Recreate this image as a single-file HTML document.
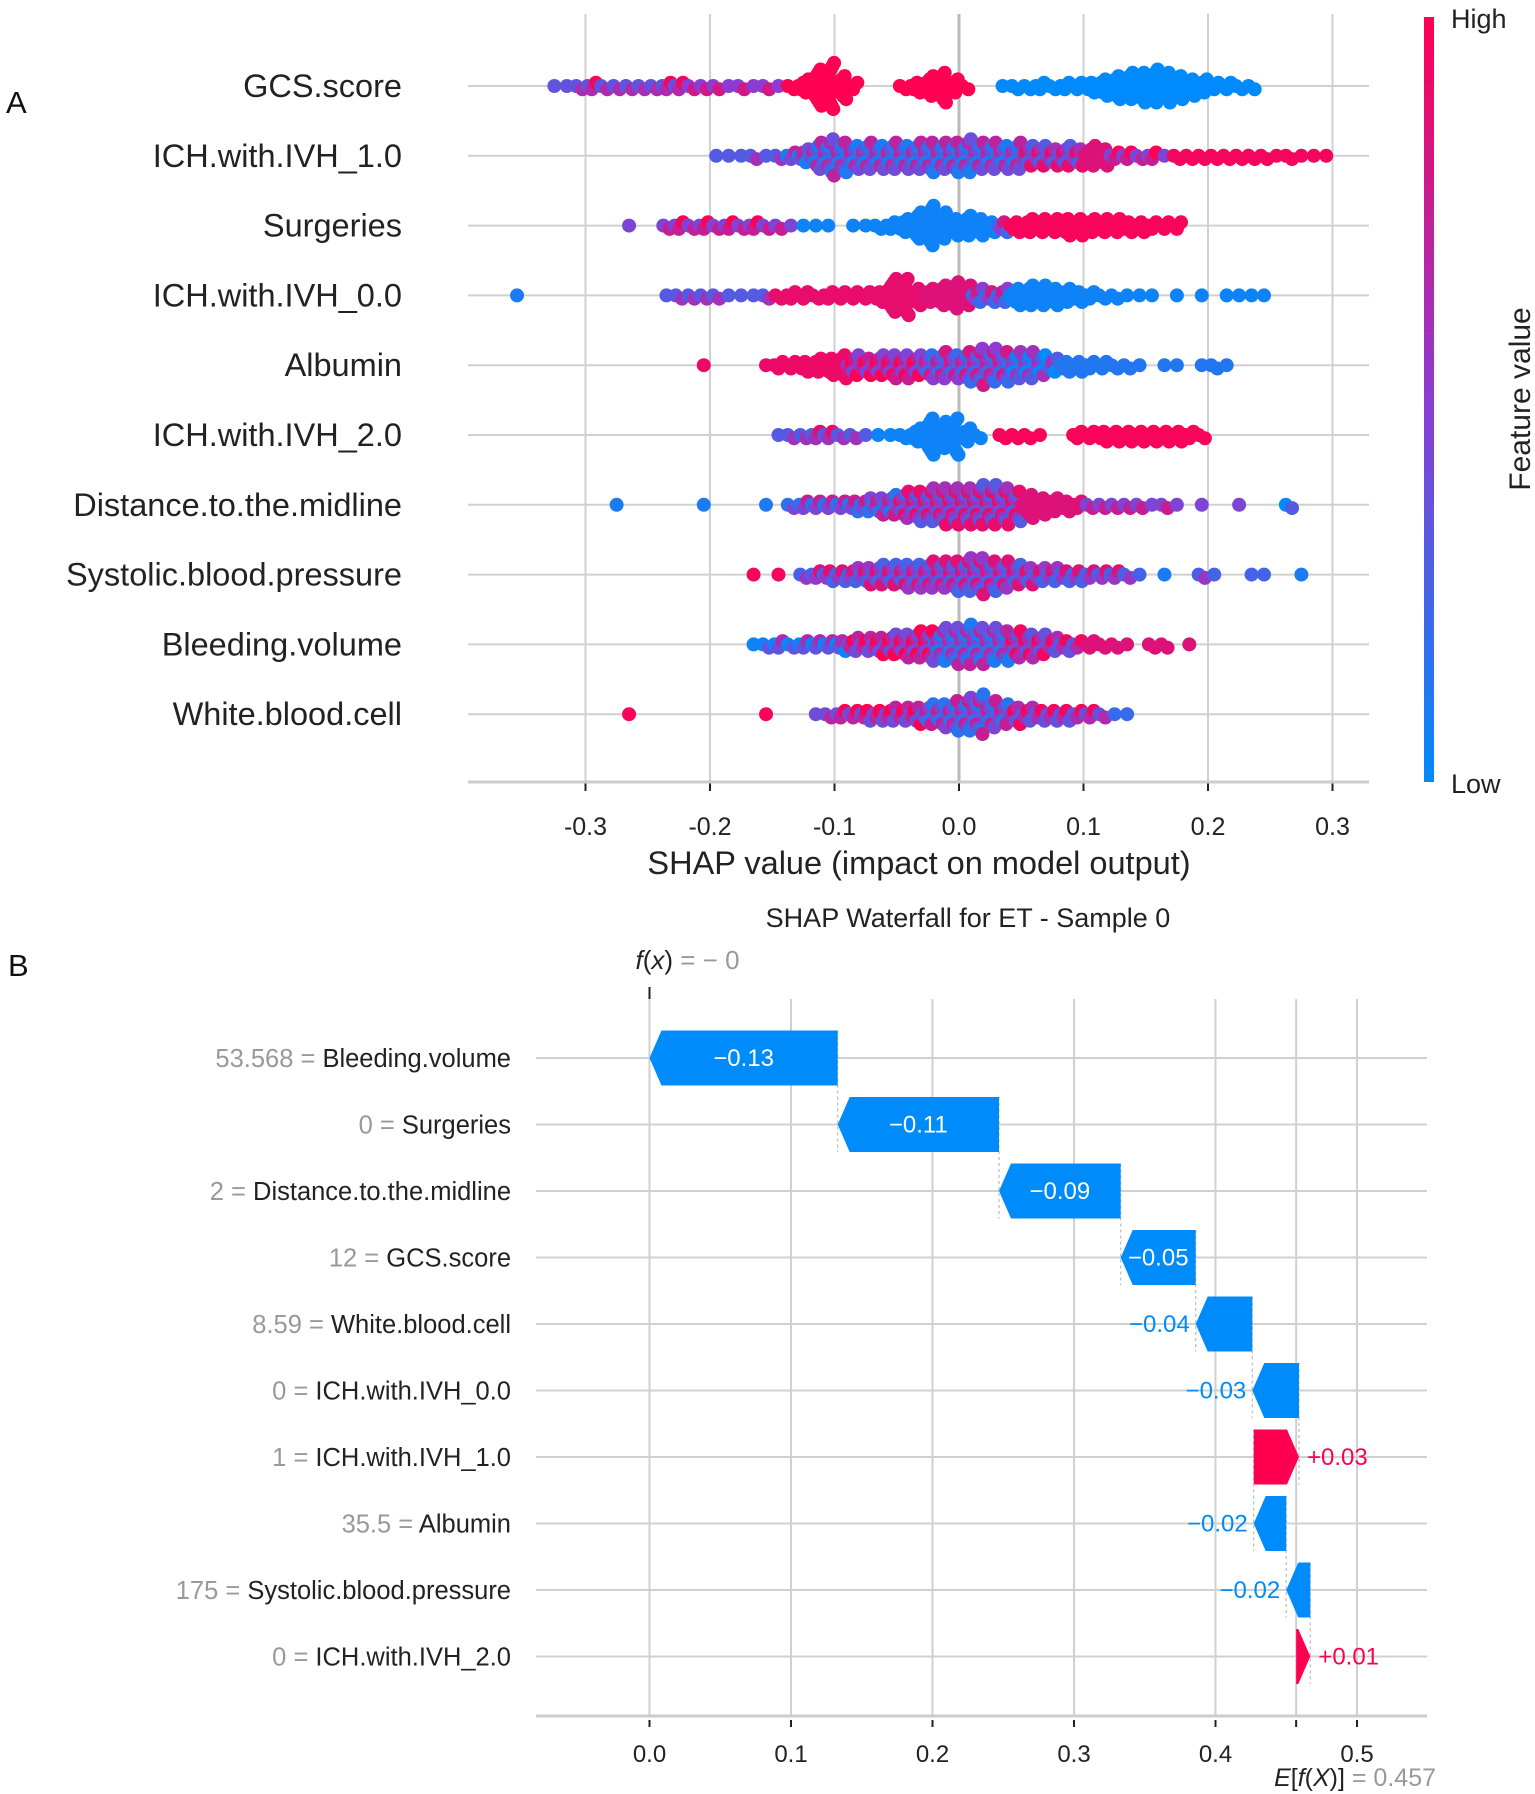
<!DOCTYPE html>
<html><head><meta charset="utf-8">
<style>
html,body{margin:0;padding:0;background:#fff;}
svg{display:block;font-family:"Liberation Sans",sans-serif;}
</style></head>
<body>
<svg id="fig" width="1535" height="1794" viewBox="0 0 1535 1794" xmlns="http://www.w3.org/2000/svg">
<defs>
<linearGradient id="cbar" x1="0" y1="1" x2="0" y2="0">
<stop offset="0" stop-color="#008afb"/><stop offset="0.5" stop-color="#8c3cd2"/><stop offset="1" stop-color="#ff0052"/>
</linearGradient>
</defs>
<text x="6" y="113" font-size="31" fill="#111">A</text>
<text x="8" y="976" font-size="31" fill="#111">B</text>
<g id="gA"></g>
<g id="gB"></g>
</svg>
<script>
// ---------- Panel A data (beeswarm: counts per 0.01 SHAP bin) ----------
const featuresA = ["GCS.score","ICH.with.IVH_1.0","Surgeries","ICH.with.IVH_0.0","Albumin","ICH.with.IVH_2.0","Distance.to.the.midline","Systolic.blood.pressure","Bleeding.volume","White.blood.cell"];
const binStarts = [-0.33,-0.20,-0.27,-0.36,-0.21,-0.15,-0.28,-0.17,-0.17,-0.27];
const gcsCounts = [1,1,2,3,2,2,2,2,2,3,3,2,2,2,1,2,1,2,1,2,5,12,15,8,3,0,0,0,2,4,7,10,5,2,0,0,1,2,2,3,2,3,3,4,6,8,9,10,11,10,8,6,5,3,3,2,2];
const ich1Counts = [1,1,1,2,1,2,3,5,9,12,10,8,9,8,9,8,9,10,9,10,11,9,9,8,9,7,7,6,7,6,7,6,3,3,2,3,1,2,2,2,2,2,2,2,2,1,2,1,1,1];
const surgCounts = [1,0,0,2,3,2,3,2,3,2,3,2,2,1,1,1,1,0,1,1,2,3,5,9,13,9,6,7,6,4,4,4,5,5,5,6,6,5,5,5,4,4,3,3,3];
const ich0Counts = [1,0,0,0,0,0,0,0,0,0,0,0,1,2,2,2,2,1,1,1,2,2,3,3,2,3,3,3,3,4,11,12,6,5,7,9,7,5,4,5,6,7,7,6,5,4,3,2,2,1,1,1,0,1,0,1,0,1,1,1,1];
const albCounts = [1,0,0,0,0,1,3,3,4,5,6,8,7,6,7,8,8,7,8,9,8,10,12,11,10,9,9,7,5,4,4,3,3,2,2,1,0,1,1,0,1,2,1];
const ich2Counts = [1,2,2,3,3,2,2,1,1,1,2,5,12,9,12,5,2,0,2,2,2,1,0,0,3,3,4,4,4,4,4,4,4,3,2];
const distCounts = [1,0,0,0,0,0,0,1,0,0,0,0,1,0,2,3,3,3,3,4,5,6,7,9,10,11,12,12,12,13,13,12,10,8,6,5,4,3,2,2,2,2,2,1,2,1,0,1,0,0,1,0,0,0,2];
const sysCounts = [1,0,1,0,2,3,4,4,5,6,7,7,8,8,9,9,10,11,12,10,9,7,6,5,5,4,4,3,3,3,2,1,0,1,0,0,2,1,0,0,1,1,0,0,1];
const bleedCounts = [1,2,3,2,3,3,3,4,5,5,6,7,8,9,10,11,12,13,12,11,10,9,8,7,5,4,3,3,2,2,1,0,2,2,0,1];
const wbcCounts = [1,0,0,0,0,0,0,0,0,0,0,1,0,0,0,1,2,3,3,4,4,5,5,6,7,8,10,11,13,9,7,6,5,4,4,4,3,3,2,1,1];
// feature-value colour segments: [segment start SHAP, mean feature value 0..1]
const gcsColor = [[-0.33,0.65],[-0.22,0.8],[-0.14,1.0],[0.02,0.0]];
const ich1Color = [[-0.20,0.6],[-0.14,0.4],[0.05,0.6],[0.10,0.85],[0.12,0.75],[0.17,0.95]];
const surgColor = [[-0.27,0.75],[-0.13,0.05],[0.03,0.5],[0.04,0.97]];
const ich0Color = [[-0.36,0.4],[-0.24,0.6],[-0.15,0.9],[-0.03,0.85],[0.01,0.5],[0.04,0.05]];
const albColor = [[-0.21,0.92],[-0.09,0.75],[-0.03,0.5],[0.04,0.3],[0.08,0.12]];
const ich2Color = [[-0.15,0.6],[-0.07,0.05],[0.03,0.97]];
const distColor = [[-0.28,0.1],[-0.14,0.45],[-0.05,0.6],[0.05,0.85],[0.10,0.75],[0.26,0.3]];
const sysColor = [[-0.17,0.95],[-0.13,0.55],[0.16,0.1],[0.19,0.55],[0.27,0.1]];
const bleedColor = [[-0.17,0.35],[-0.09,0.7],[-0.02,0.4],[0.04,0.65],[0.10,0.85]];
const wbcColor = [[-0.27,0.97],[-0.12,0.7],[-0.03,0.45],[0.04,0.65],[0.12,0.5]];
const ticksA = [-0.3,-0.2,-0.1,0.0,0.1,0.2,0.3];
const tickLabelsA = ["-0.3","-0.2","-0.1","0.0","0.1","0.2","0.3"];

// ---------- Panel B data (waterfall) ----------
const featuresB = ["Bleeding.volume","Surgeries","Distance.to.the.midline","GCS.score","White.blood.cell","ICH.with.IVH_0.0","ICH.with.IVH_1.0","Albumin","Systolic.blood.pressure","ICH.with.IVH_2.0"];
const featValuesB = ["53.568","0","2","12","8.59","0","1","35.5","175","0"];
const shapB = [-0.133,-0.114,-0.086,-0.053,-0.040,-0.033,0.032,-0.023,-0.017,0.010];
const shapLabelsB = ["\u22120.13","\u22120.11","\u22120.09","\u22120.05","\u22120.04","\u22120.03","+0.03","\u22120.02","\u22120.02","+0.01"];
const baseValue = 0.457;
const ticksB = [0.0,0.1,0.2,0.3,0.4,0.5];
const tickLabelsB = ["0.0","0.1","0.2","0.3","0.4","0.5"];

const NS = "http://www.w3.org/2000/svg";
function mk(tag, attrs, parent){const e=document.createElementNS(NS,tag);for(const k in attrs)e.setAttribute(k,attrs[k]);parent.appendChild(e);return e;}
function cmap(v){v=Math.max(0,Math.min(1,v));const a=[0,138,251],m=[140,60,210],b=[255,0,82];let c;
 if(v<0.5){const t=v/0.5;c=a.map((x,i)=>Math.round(x+(m[i]-x)*t));}else{const t=(v-0.5)/0.5;c=m.map((x,i)=>Math.round(x+(b[i]-x)*t));}
 return "rgb("+c.join(",")+")";}

// ---------- Panel A ----------
const gA=document.getElementById("gA");
const xA = v => 959 + v*1245;
const rowY = i => 86 + i*69.8;
const A_L=468, A_R=1369, A_AX=782;
ticksA.forEach((t,i)=>{
 const gl=mk("line",{x1:xA(t),x2:xA(t),y1:14,y2:A_AX,stroke:t===0?"#bbb":"#d0d0d0","stroke-width":t===0?3:2},gA);
 
 
 const tk=mk("line",{x1:xA(t),x2:xA(t),y1:A_AX,y2:A_AX+9,stroke:"#222","stroke-width":2},gA);
 
 
 const tl=mk("text",{x:xA(t),y:835,"font-size":25,"text-anchor":"middle",fill:"#222"},gA);
 tl.textContent=tickLabelsA[i];
 
 
});
const axA=mk("line",{x1:A_L,x2:A_R,y1:A_AX,y2:A_AX,stroke:"#ccc","stroke-width":3},gA);


const xtA=mk("text",{x:919,y:874,"font-size":32.5,"text-anchor":"middle",fill:"#222"},gA);
xtA.textContent="SHAP value (impact on model output)";



const countsAll=[gcsCounts,ich1Counts,surgCounts,ich0Counts,albCounts,ich2Counts,distCounts,sysCounts,bleedCounts,wbcCounts];
const colorsAll=[gcsColor,ich1Color,surgColor,ich0Color,albColor,ich2Color,distColor,sysColor,bleedColor,wbcColor];
featuresA.forEach((f,i)=>{
 const y=rowY(i);
 const rl=mk("line",{x1:A_L,x2:A_R,y1:y,y2:y,stroke:"#d0d0d0","stroke-width":2},gA);
 
 
 const lb=mk("text",{x:402,y:y+11,"font-size":32.5,"text-anchor":"end",fill:"#222"},gA);
 lb.textContent=f;
 
 
 const g=mk("g",{},gA);
 
 
 const counts=countsAll[i], segs=colorsAll[i];
 counts.forEach((n,b)=>{
  const v0=binStarts[i]+b*0.01;
  let c=segs[0][1]; segs.forEach(s=>{if(v0>=s[0]-1e-9)c=s[1];});
  for(let k=0;k<n;k++){
   const v=v0+(k+0.5)/n*0.01;
   const off=(k===0?0:(k%2?1:-1)*Math.ceil(k/2))*3.3;
   let cc=c; if(c>0.2&&c<0.85){cc=c+((k%3)-1)*0.3;}
   const d=mk("circle",{cx:xA(v),cy:y+off,r:7,fill:cmap(cc)},g);
   
   
  }
 });
});
const cb=mk("rect",{x:1424,y:17,width:10,height:765,fill:"url(#cbar)"},gA);


const hi=mk("text",{x:1451,y:28,"font-size":27,fill:"#222"},gA);hi.textContent="High";


const lo=mk("text",{x:1451,y:793,"font-size":27,fill:"#222"},gA);lo.textContent="Low";


const fv=mk("text",{x:0,y:0,"font-size":30,"text-anchor":"middle",fill:"#222",transform:"translate(1530,399) rotate(-90)"},gA);fv.textContent="Feature value";



// ---------- Panel B ----------
const gB=document.getElementById("gB");
const xB = v => 649.5 + v*1415;
const rowYB = i => 1058 + i*66.5;
const B_L=536, B_R=1427, B_AX=1716, BH=55, HW=12;
const ttl=mk("text",{x:968,y:927,"font-size":27,"text-anchor":"middle",fill:"#222"},gB);
ttl.textContent="SHAP Waterfall for ET - Sample 0";


ticksB.forEach((t,i)=>{
 const gl=mk("line",{x1:xB(t),x2:xB(t),y1:999,y2:B_AX,stroke:"#d0d0d0","stroke-width":2},gB);
 
 
 const tk=mk("line",{x1:xB(t),x2:xB(t),y1:B_AX+4,y2:B_AX+11,stroke:"#222","stroke-width":2},gB);
 
 
 const tl=mk("text",{x:xB(t),y:1762,"font-size":24,"text-anchor":"middle",fill:"#222"},gB);
 tl.textContent=tickLabelsB[i];
 
 
});
const eLine=mk("line",{x1:xB(baseValue),x2:xB(baseValue),y1:999,y2:B_AX,stroke:"#d0d0d0","stroke-width":2},gB);


const eTick=mk("line",{x1:xB(baseValue),x2:xB(baseValue),y1:B_AX+4,y2:B_AX+11,stroke:"#222","stroke-width":2},gB);


const axB=mk("line",{x1:B_L,x2:B_R,y1:B_AX,y2:B_AX,stroke:"#ccc","stroke-width":3},gB);


const fxTick=mk("line",{x1:xB(0),x2:xB(0),y1:987,y2:999,stroke:"#222","stroke-width":2},gB);


const fx=mk("text",{x:xB(0)+38,y:969,"font-size":26,"text-anchor":"middle",fill:"#222"},gB);
fx.innerHTML='<tspan font-style="italic">f</tspan>(<tspan font-style="italic">x</tspan>) <tspan fill="#999">= − 0</tspan>';


const ef=mk("text",{x:1436,y:1786,"font-size":25,"text-anchor":"end",fill:"#222"},gB);
ef.innerHTML='<tspan font-style="italic">E</tspan>[<tspan font-style="italic">f</tspan>(<tspan font-style="italic">X</tspan>)] <tspan fill="#999">= 0.457</tspan>';



// cumulative positions (rows top→bottom; accumulate from bottom starting at base)
const ends=new Array(shapB.length), starts=new Array(shapB.length);
let cur=baseValue;
for(let i=shapB.length-1;i>=0;i--){starts[i]=cur;ends[i]=cur+shapB[i];cur=ends[i];}
featuresB.forEach((f,i)=>{
 const y=rowYB(i);
 const rl=mk("line",{x1:B_L,x2:B_R,y1:y,y2:y,stroke:"#d0d0d0","stroke-width":2},gB);
 
 
 const lb=mk("text",{x:511,y:y+9,"font-size":25.5,"text-anchor":"end",fill:"#222"},gB);
 lb.innerHTML='<tspan fill="#999">'+featValuesB[i]+' = </tspan>'+f;
 
 
});
featuresB.forEach((f,i)=>{
 const y=rowYB(i), a=xB(starts[i]), b=xB(ends[i]);
 const w=Math.abs(b-a), hw=Math.min(HW,w), dir=b>a?1:-1;
 const top=y-BH/2, bot=y+BH/2;
 if(i<featuresB.length-1){
  const cl=mk("line",{x1:a,x2:a,y1:top,y2:rowYB(i+1)+BH/2,stroke:"#bbb","stroke-width":1.2,"stroke-dasharray":"3,3"},gB);
  
  
 }
 const pts=[[a,top],[b-dir*hw,top],[b,y],[b-dir*hw,bot],[a,bot]].map(p=>p.join(",")).join(" ");
 const col=shapB[i]<0?"#008bfb":"#ff0051";
 const bar=mk("polygon",{points:pts,fill:col},gB);
 
 
 const inside=(w-hw)>58;
 const t=mk("text",{"font-size":24,fill:inside?"#fff":col,y:y+8},gB);
 if(inside){t.setAttribute("x",(a+b)/2);t.setAttribute("text-anchor","middle");}
 else if(dir<0){t.setAttribute("x",b-6);t.setAttribute("text-anchor","end");}
 else{t.setAttribute("x",b+8);t.setAttribute("text-anchor","start");}
 t.textContent=shapLabelsB[i];
 
 
});
</script>
</body></html>
